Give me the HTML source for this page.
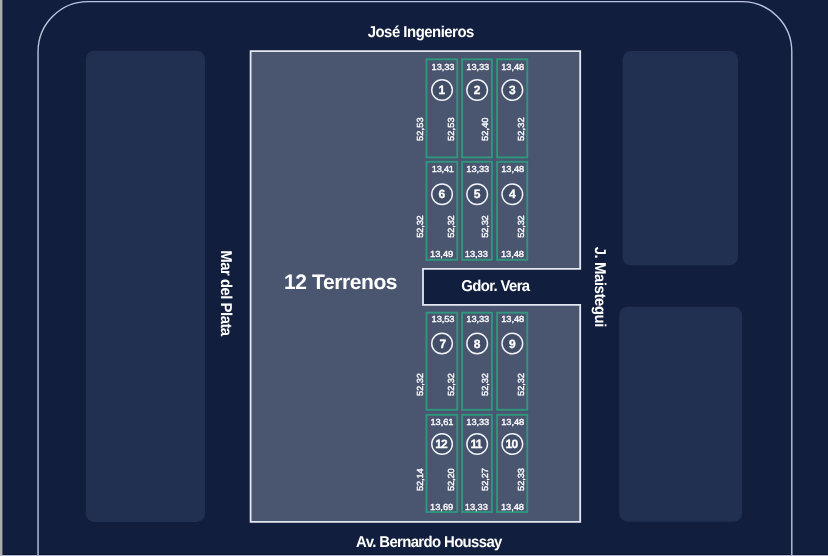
<!DOCTYPE html>
<html lang="es">
<head>
<meta charset="utf-8">
<title>12 Terrenos</title>
<style>
html,body{margin:0;padding:0;background:#111e3d;}
body{width:828px;height:556px;overflow:hidden;position:relative;}
svg{position:absolute;left:0;top:0;display:block;will-change:transform;}
text{font-family:"Liberation Sans",sans-serif;fill:#fff;stroke:#fff;stroke-linejoin:round;text-rendering:geometricPrecision;}
.st{font-size:15.7px;font-weight:bold;stroke:none;}
.n{font-size:8.8px;stroke-width:0.35px;}
.c{font-size:12px;font-weight:bold;stroke-width:0.3px;}
.t{font-size:21px;font-weight:bold;stroke:none;}
.lot{fill:none;stroke:#2e977d;stroke-width:1.9;}
.ring{fill:#424d67;stroke:#f4f5fa;stroke-width:1.45;}
.blk{fill:#212f50;}
</style>
</head>
<body>
<svg width="828" height="556" viewBox="0 0 828 556">
<rect x="0" y="0" width="828" height="556" fill="#111e3d"/>
<rect x="0" y="554" width="828" height="1" fill="#0a1430"/>
<path d="M38.050 556 V51.600 A50 50 0 0 1 88.050 1.600 H741.800 A50 50 0 0 1 791.800 51.600 V556" fill="none" stroke="#bcc5de" stroke-width="1.4"/>
<rect x="2" y="0" width="1" height="556" fill="#3a4258"/>
<rect x="0" y="0" width="2.200" height="556" fill="#aaaeaf"/>
<rect x="0" y="555" width="828" height="1" fill="#b3bbd5"/>
<rect class="blk" x="85.800" y="50.800" width="119.200" height="471.200" rx="8.500"/>
<rect class="blk" x="622.500" y="51.100" width="115.500" height="214.500" rx="8.500"/>
<rect class="blk" x="619.200" y="306.700" width="123" height="215.100" rx="8.500"/>
<path d="M250.600 51.050 H580.200 V268.800 H423 V304.800 H580.200 V521.900 H250.600 Z" fill="#4a5670" stroke="#e4e8f2" stroke-width="1.8"/>

<rect class="lot" x="426.5" y="59.3" width="30.8" height="98.1"/>
<circle class="ring" cx="442.05" cy="90" r="10.3"/>
<text class="c" transform="translate(438.39 94) scale(1.000 1)" letter-spacing="0">1</text>
<rect class="lot" x="462.1" y="59.3" width="29.8" height="98.1"/>
<circle class="ring" cx="477.15" cy="90" r="10.3"/>
<text class="c" transform="translate(473.67 94) scale(1.000 1)" letter-spacing="0">2</text>
<rect class="lot" x="497.1" y="59.3" width="30.2" height="98.1"/>
<circle class="ring" cx="512.35" cy="90" r="10.3"/>
<text class="c" transform="translate(508.97 94) scale(1.000 1)" letter-spacing="0">3</text>
<rect class="lot" x="426.5" y="161.8" width="30.8" height="98"/>
<circle class="ring" cx="442.05" cy="194.2" r="10.3"/>
<text class="c" transform="translate(438.57 198) scale(1.000 1)" letter-spacing="0">6</text>
<rect class="lot" x="462.1" y="161.8" width="29.8" height="98"/>
<circle class="ring" cx="477.15" cy="194.2" r="10.3"/>
<text class="c" transform="translate(473.77 198) scale(1.000 1)" letter-spacing="0">5</text>
<rect class="lot" x="497.1" y="161.8" width="30.2" height="98"/>
<circle class="ring" cx="512.35" cy="194.2" r="10.3"/>
<text class="c" transform="translate(508.88 198) scale(1.000 1)" letter-spacing="0">4</text>
<rect class="lot" x="426.5" y="312.7" width="30.8" height="97.1"/>
<circle class="ring" cx="442.05" cy="343.5" r="10.3"/>
<text class="c" transform="translate(439.47 348) scale(1.000 1)" letter-spacing="0">7</text>
<rect class="lot" x="462.1" y="312.7" width="29.8" height="97.1"/>
<circle class="ring" cx="477.15" cy="343.5" r="10.3"/>
<text class="c" transform="translate(473.67 348) scale(1.000 1)" letter-spacing="0">8</text>
<rect class="lot" x="497.1" y="312.7" width="30.2" height="97.1"/>
<circle class="ring" cx="512.35" cy="343.5" r="10.3"/>
<text class="c" transform="translate(508.88 348) scale(1.000 1)" letter-spacing="0">9</text>
<rect class="lot" x="426.5" y="414.8" width="30.8" height="97.2"/>
<circle class="ring" cx="442.05" cy="444" r="10.3"/>
<text class="c" transform="translate(435.18 448) scale(1.000 1)" letter-spacing="-0.75">12</text>
<rect class="lot" x="462.1" y="414.8" width="29.8" height="97.2"/>
<circle class="ring" cx="477.15" cy="444" r="10.3"/>
<text class="c" transform="translate(470.61 448) scale(1.000 1)" letter-spacing="-0.75">11</text>
<rect class="lot" x="497.1" y="414.8" width="30.2" height="97.2"/>
<circle class="ring" cx="512.35" cy="444" r="10.3"/>
<text class="c" transform="translate(505.57 448) scale(1.000 1)" letter-spacing="-0.75">10</text>
<text class="st" transform="translate(367.7 37.2) scale(0.950 1)" letter-spacing="-0.515">José Ingenieros</text>
<text class="st" transform="translate(356.07 547.4) scale(0.950 1)" letter-spacing="-0.658">Av. Bernardo Houssay</text>
<text class="st" transform="translate(461.23 291) scale(0.950 1)" letter-spacing="-0.660">Gdor. Vera</text>
<text class="t" transform="translate(283.99 288.7)" letter-spacing="-0.394">12 Terrenos</text>
<text class="st" transform="translate(221 250.37) rotate(90) scale(0.950 1)" letter-spacing="-0.541">Mar del Plata</text>
<text class="st" transform="translate(595 246.7) rotate(90) scale(0.950 1)" letter-spacing="-0.439">J. Maistegui</text>
<text class="n" transform="translate(431.59 70) scale(1.060 1)" letter-spacing="-0.125">13,33</text>
<text class="n" transform="translate(453.9 140.92) rotate(-90) scale(1.060 1)" letter-spacing="0.065">52,53</text>
<text class="n" transform="translate(466.29 70) scale(1.060 1)" letter-spacing="-0.078">13,33</text>
<text class="n" transform="translate(487.9 140.92) rotate(-90) scale(1.060 1)" letter-spacing="0.031">52,40</text>
<text class="n" transform="translate(501.19 70) scale(1.060 1)" letter-spacing="-0.055">13,48</text>
<text class="n" transform="translate(523.7 140.92) rotate(-90) scale(1.060 1)" letter-spacing="0.065">52,32</text>
<text class="n" transform="translate(422.7 140.92) rotate(-90) scale(1.060 1)" letter-spacing="0.065">52,53</text>
<text class="n" transform="translate(431.79 172) scale(1.060 1)" letter-spacing="-0.267">13,41</text>
<text class="n" transform="translate(430.09 256.7) scale(1.060 1)" letter-spacing="-0.055">13,49</text>
<text class="n" transform="translate(453.9 237.72) rotate(-90) scale(1.060 1)" letter-spacing="-0.194">52,32</text>
<text class="n" transform="translate(466.29 172) scale(1.060 1)" letter-spacing="-0.078">13,33</text>
<text class="n" transform="translate(464.79 256.7) scale(1.060 1)" letter-spacing="-0.055">13,33</text>
<text class="n" transform="translate(487.9 237.72) rotate(-90) scale(1.060 1)" letter-spacing="-0.194">52,32</text>
<text class="n" transform="translate(501.19 172) scale(1.060 1)" letter-spacing="-0.055">13,48</text>
<text class="n" transform="translate(500.99 256.7) scale(1.060 1)" letter-spacing="-0.078">13,48</text>
<text class="n" transform="translate(523.7 237.72) rotate(-90) scale(1.060 1)" letter-spacing="-0.194">52,32</text>
<text class="n" transform="translate(422.7 237.72) rotate(-90) scale(1.060 1)" letter-spacing="-0.194">52,32</text>
<text class="n" transform="translate(431.59 322) scale(1.060 1)" letter-spacing="-0.125">13,53</text>
<text class="n" transform="translate(453.9 395.92) rotate(-90) scale(1.060 1)" letter-spacing="-0.123">52,32</text>
<text class="n" transform="translate(466.29 322) scale(1.060 1)" letter-spacing="-0.078">13,33</text>
<text class="n" transform="translate(487.9 395.92) rotate(-90) scale(1.060 1)" letter-spacing="-0.123">52,32</text>
<text class="n" transform="translate(501.19 322) scale(1.060 1)" letter-spacing="-0.055">13,48</text>
<text class="n" transform="translate(523.7 395.92) rotate(-90) scale(1.060 1)" letter-spacing="-0.123">52,32</text>
<text class="n" transform="translate(422.7 395.92) rotate(-90) scale(1.060 1)" letter-spacing="-0.123">52,32</text>
<text class="n" transform="translate(430.49 425) scale(1.060 1)" letter-spacing="-0.102">13,61</text>
<text class="n" transform="translate(430.09 509.7) scale(1.060 1)" letter-spacing="-0.055">13,69</text>
<text class="n" transform="translate(453.9 490.92) rotate(-90) scale(1.060 1)" letter-spacing="-0.158">52,20</text>
<text class="n" transform="translate(466.29 425) scale(1.060 1)" letter-spacing="-0.078">13,33</text>
<text class="n" transform="translate(464.79 509.7) scale(1.060 1)" letter-spacing="-0.055">13,33</text>
<text class="n" transform="translate(487.9 490.92) rotate(-90) scale(1.060 1)" letter-spacing="-0.123">52,27</text>
<text class="n" transform="translate(501.19 425) scale(1.060 1)" letter-spacing="-0.055">13,48</text>
<text class="n" transform="translate(500.99 509.7) scale(1.060 1)" letter-spacing="-0.078">13,48</text>
<text class="n" transform="translate(523.7 490.92) rotate(-90) scale(1.060 1)" letter-spacing="-0.123">52,33</text>
<text class="n" transform="translate(422.7 490.92) rotate(-90) scale(1.060 1)" letter-spacing="-0.158">52,14</text>
</svg>
</body>
</html>
